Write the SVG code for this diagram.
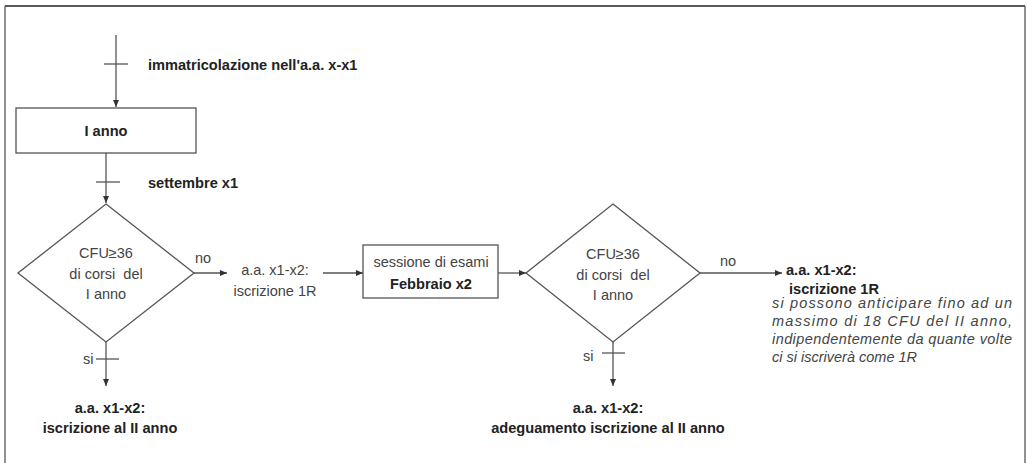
<svg xmlns="http://www.w3.org/2000/svg" width="1028" height="463" viewBox="0 0 1028 463">
<defs>
<marker id="ah" markerWidth="8" markerHeight="8" refX="7" refY="4" orient="auto" markerUnits="userSpaceOnUse">
<path d="M0,1 L7,4 L0,7 Z" fill="#333"/>
</marker>
<style>
.ln{stroke:#555;stroke-width:1.3;fill:none}
.sh{stroke:#555;stroke-width:1.3;fill:#fff}
.n{font-family:"Liberation Sans",Arial,sans-serif;font-size:14.5px;fill:#444}
.b{font-family:"Liberation Sans",Arial,sans-serif;font-size:14.6px;font-weight:bold;fill:#222}
.i{font-family:"Liberation Sans",Arial,sans-serif;font-size:14.5px;font-style:italic;fill:#444}
.c{text-anchor:middle}
</style>
</defs>
<rect width="1028" height="463" fill="#fff"/>
<g id="frame">
<line x1="5" y1="6" x2="1025" y2="6" stroke="#222" stroke-width="1.5"/>
<line x1="5" y1="6" x2="5" y2="463" stroke="#555" stroke-width="1.3"/>
<line x1="1025" y1="6" x2="1025" y2="463" stroke="#555" stroke-width="1.3"/>
</g>
<g id="connectors">
<line class="ln" x1="116" y1="35" x2="116" y2="107" marker-end="url(#ah)"/>
<line class="ln" x1="104" y1="64" x2="128" y2="64"/>
<line class="ln" x1="106" y1="153" x2="106" y2="203" marker-end="url(#ah)"/>
<line class="ln" x1="96" y1="182" x2="120" y2="182"/>
<line class="ln" x1="193" y1="273" x2="227" y2="273" marker-end="url(#ah)"/>
<line class="ln" x1="323" y1="273" x2="363" y2="273" marker-end="url(#ah)"/>
<line class="ln" x1="498" y1="273" x2="526" y2="273" marker-end="url(#ah)"/>
<line class="ln" x1="700" y1="273" x2="782" y2="273" marker-end="url(#ah)"/>
<line class="ln" x1="106" y1="342" x2="106" y2="386" marker-end="url(#ah)"/>
<line class="ln" x1="96" y1="359" x2="119" y2="359"/>
<line class="ln" x1="613" y1="342" x2="613" y2="386" marker-end="url(#ah)"/>
<line class="ln" x1="602" y1="353" x2="625" y2="353"/>
<text class="n" x="195" y="263">no</text>
<text class="n" x="720" y="266">no</text>
<text class="n" x="83" y="364">si</text>
<text class="n" x="583" y="361">si</text>
</g>
<g id="start-label">
<text class="b" x="148" y="70">immatricolazione nell'a.a. x-x1</text>
</g>
<g id="box-anno1">
<rect class="sh" x="16" y="108" width="180" height="45"/>
<text class="b c" x="106" y="136">I anno</text>
</g>
<g id="label-settembre">
<text class="b" x="148" y="188">settembre x1</text>
</g>
<g id="diamond1">
<polygon class="sh" points="106,204 194,273 106,342 18,273"/>
<text class="n c" x="106" y="258">CFU≥36</text>
<text class="n c" x="106" y="279" xml:space="preserve">di corsi  del</text>
<text class="n c" x="106" y="299">I anno</text>
</g>
<g id="label-1R-a">
<text class="n c" x="275" y="275">a.a. x1-x2:</text>
<text class="n c" x="275" y="296">iscrizione 1R</text>
</g>
<g id="box-febbraio">
<rect class="sh" x="363" y="245" width="135" height="53"/>
<text class="n c" x="431" y="267">sessione di esami</text>
<text class="b c" x="431" y="289">Febbraio x2</text>
</g>
<g id="diamond2">
<polygon class="sh" points="613,204 700,273 613,342 526,273"/>
<text class="n c" x="613" y="259">CFU≥36</text>
<text class="n c" x="613" y="280" xml:space="preserve">di corsi  del</text>
<text class="n c" x="613" y="300">I anno</text>
</g>
<g id="label-1R-b">
<text class="b" x="786" y="275">a.a. x1-x2:</text>
<text class="b" x="789" y="294">iscrizione 1R</text>
<text class="i" x="772" y="308" textLength="240" lengthAdjust="spacing">si possono anticipare fino ad un</text>
<text class="i" x="772" y="326" textLength="240" lengthAdjust="spacing">massimo di 18 CFU del II anno,</text>
<text class="i" x="772" y="344" textLength="240" lengthAdjust="spacing">indipendentemente da quante volte</text>
<text class="i" x="772" y="362">ci si iscriverà come 1R</text>
</g>
<g id="label-II-anno">
<text class="b c" x="110" y="413">a.a. x1-x2:</text>
<text class="b c" x="110" y="433">iscrizione al II anno</text>
</g>
<g id="label-adeguamento">
<text class="b c" x="608" y="413">a.a. x1-x2:</text>
<text class="b c" x="608" y="433">adeguamento iscrizione al II anno</text>
</g>
</svg>
